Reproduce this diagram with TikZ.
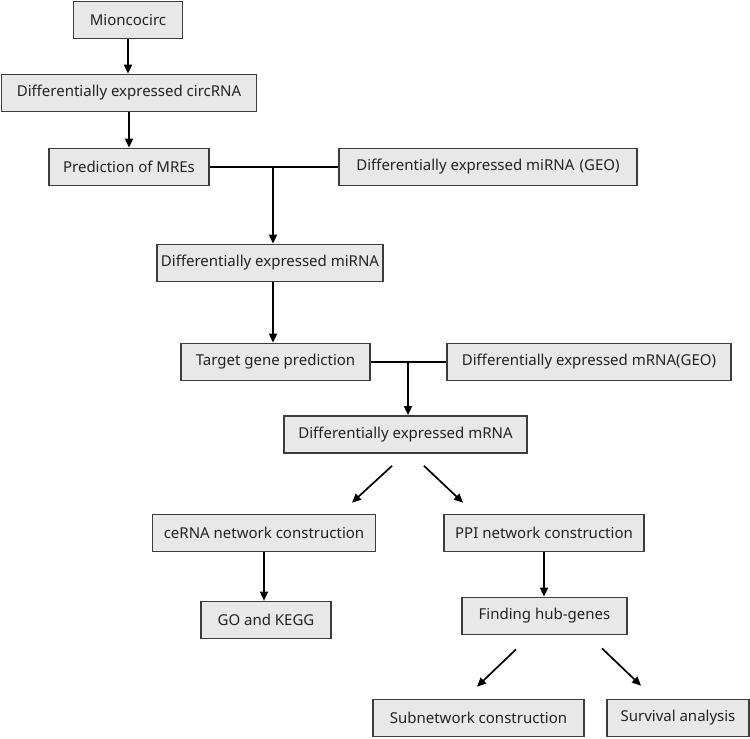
\documentclass[tikz,border=0pt]{standalone}
\usepackage{fontspec}
\setmainfont{Noto Sans}
\usepackage{tikz}
\usetikzlibrary{arrows.meta,calc,positioning}
\definecolor{boxgray}{RGB}{232,232,232}
\definecolor{edgegray}{RGB}{60,60,60}
\definecolor{textgray}{RGB}{35,35,35}

\begin{document}
\begin{tikzpicture}[x=1pt,y=-1pt,
    stepbox/.style={draw=edgegray, fill=boxgray, line width=1.7pt, minimum height=37pt,
        inner sep=0pt, text=textgray, font=\fontsize{15}{17}\selectfont},
    arr/.style={-{Triangle[length=9pt,width=8pt]}, line width=1.7pt},
    link/.style={line width=1.7pt}]
    \useasboundingbox (0,0) rectangle (750,739);

    % Upper chain: circRNA to miRNA
    \node[stepbox, minimum width=109pt] (mio) at (128,20) {Mioncocirc};
    \node[stepbox, minimum width=255pt] (dcirc) at (129,93) {Differentially expressed circRNA};
    \node[stepbox, minimum width=160pt] (mre) at (129,167) {Prediction of MREs};
    \node[stepbox, minimum width=298pt] (mirgeo) at (488,167) {Differentially expressed miRNA\hspace{0.35em}(GEO)};
    \node[stepbox, minimum width=226pt] (dmir) at (270,263) {Differentially expressed miRNA};

    \draw[arr] (mio) -- (mio |- dcirc.north);
    \draw[arr] (dcirc) -- (dcirc |- mre.north);
    \coordinate (j1) at (273,167);
    \draw[link] (mre.east) -- (mirgeo.west);
    \draw[arr] (j1) -- (j1 |- dmir.north);

    % Middle: target genes and mRNA
    \node[stepbox, minimum width=189pt] (tgp) at (275.5,362) {Target gene prediction};
    \node[stepbox, minimum width=284pt] (mrgeo) at (589,362) {Differentially expressed mRNA(GEO)};
    \node[stepbox, minimum width=243pt] (dmr) at (405.5,434.5) {Differentially expressed mRNA};

    \draw[arr] (j1 |- dmir.south) -- (j1 |- tgp.north);
    \coordinate (j2) at (408,362);
    \draw[link] (tgp.east) -- (mrgeo.west);
    \draw[arr] (j2) -- (j2 |- dmr.north);

    % Lower branches
    \node[stepbox, minimum width=223pt] (cerna) at (264,533) {ceRNA network construction};
    \node[stepbox, minimum width=200pt] (ppi) at (544,533) {PPI network construction};
    \node[stepbox, minimum width=130pt] (gokegg) at (266,620) {GO and KEGG};
    \node[stepbox, minimum width=165pt] (hub) at (544.5,616) {Finding hub-genes};
    \node[stepbox, minimum width=211pt] (subnet) at (478.5,718) {Subnetwork construction};
    \node[stepbox, minimum width=142pt] (surv) at (678,718) {Survival analysis};

    \draw[arr] ($(dmr.south)+(-13.5,12)$) -- ($(cerna.north)+(88,-11)$);
    \draw[arr] ($(dmr.south)+(18.5,12)$) -- ($(ppi.north)+(-81,-11)$);
    \draw[arr] (cerna.south) -- (cerna.south |- gokegg.north);
    \draw[arr] (ppi) -- (ppi |- hub.north);
    \draw[arr] ($(hub.south)+(-28.5,14)$) -- ($(subnet.north)+(-1.5,-12)$);
    \draw[arr] ($(hub.south)+(57.5,13)$) -- ($(surv.north)+(-37,-13)$);
\end{tikzpicture}
\end{document}
